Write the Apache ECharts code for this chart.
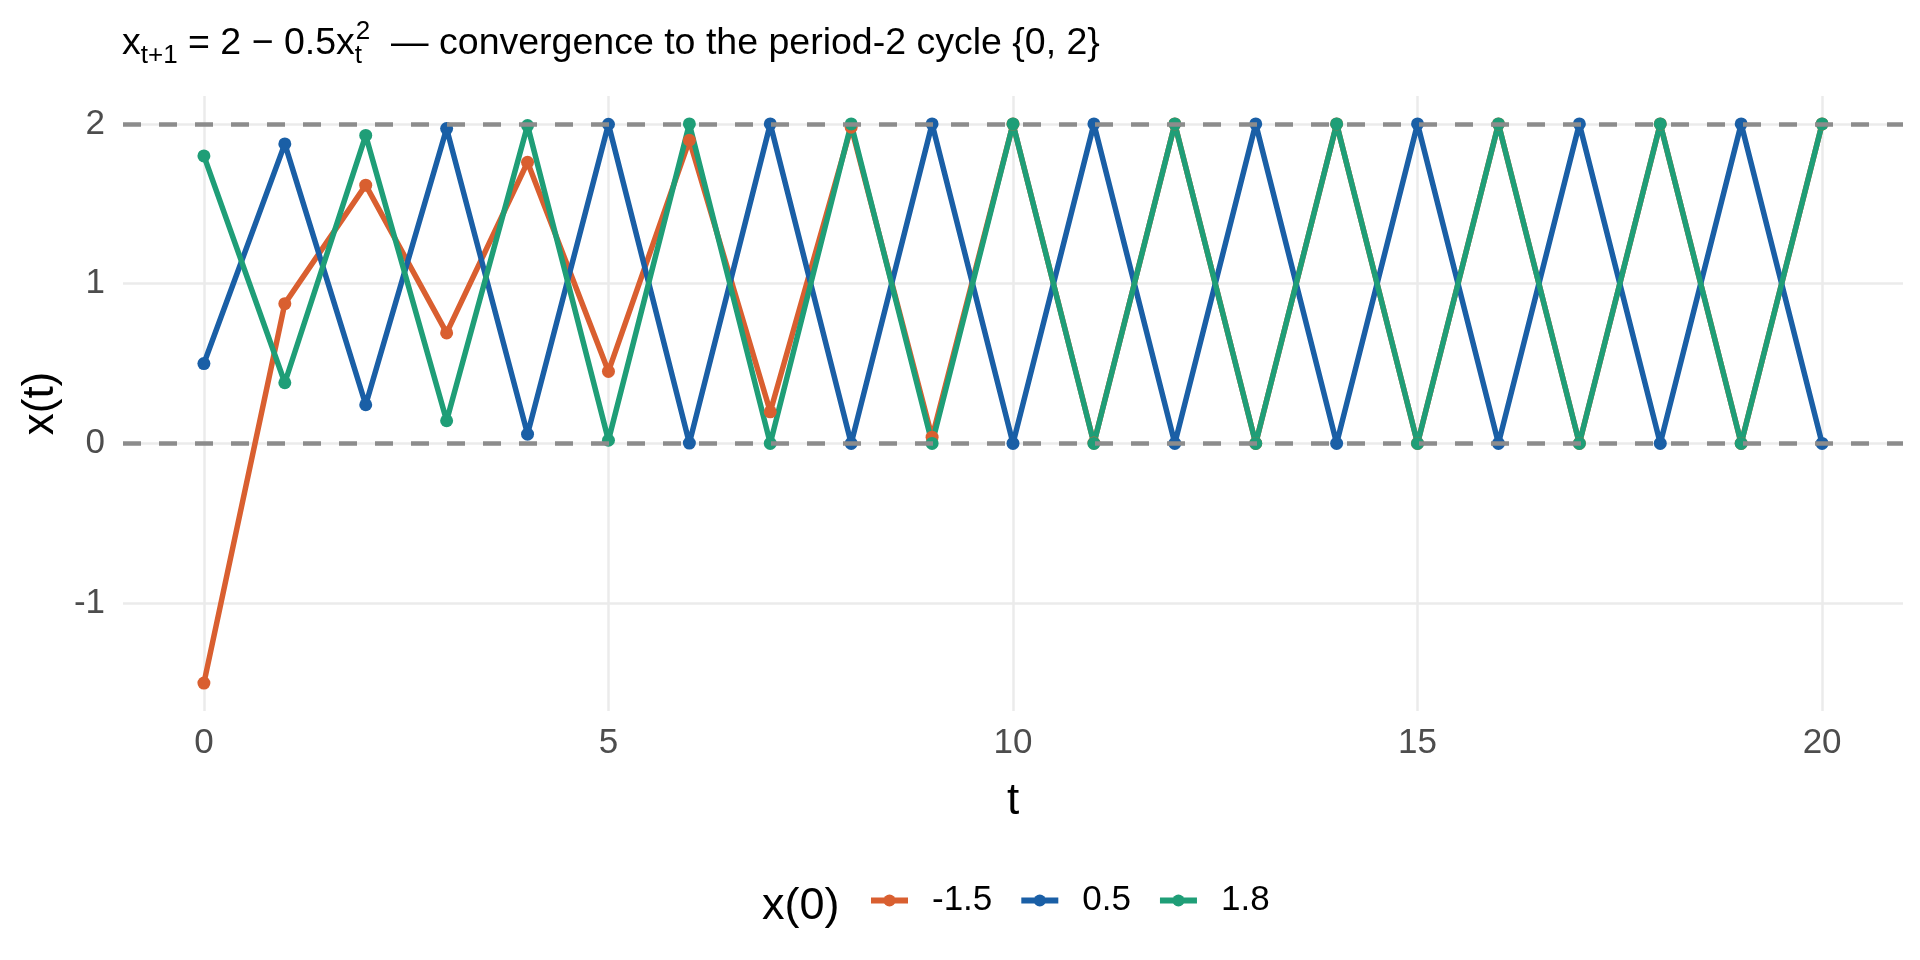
<!DOCTYPE html>
<html>
<head>
    <meta charset="utf-8">
    <title>period-2 cycle</title>
    <script type="text/javascript" src="https://cdn.jsdelivr.net/npm/echarts@6/dist/echarts.min.js"></script>
    <style>
        html, body { margin: 0; padding: 0; background: #fff; }
    </style>
</head>
<body>
<div id="main" style="width:1920px;height:960px;"></div>

<script type="text/javascript">
    // iterations t
    var steps = [0, 1, 2, 3, 4, 5, 6, 7, 8, 9, 10, 11, 12, 13, 14, 15, 16, 17, 18, 19, 20];
    // x(0) = -1.5, 0.5, 1.8
    var seriesNames = ['-1.5', '0.5', '1.8'];
    var xNeg15 = [-1.5, 0.875, 1.617, 0.692, 1.760, 0.451, 1.898, 0.198, 1.980, 0.039, 1.999, 0.002, 2, 0, 2, 0, 2, 0, 2, 0, 2];
    var x05 = [0.5, 1.875, 0.242, 1.971, 0.058, 1.998, 0.002, 2, 0, 2, 0, 2, 0, 2, 0, 2, 0, 2, 0, 2, 0];
    var x18 = [1.8, 0.38, 1.928, 0.142, 1.990, 0.020, 2, 0, 2, 0, 2, 0, 2, 0, 2, 0, 2, 0, 2, 0, 2];
    var cycleLevels = [0, 2];
    var xTicks = [0, 5, 10, 15, 20];
    var yTicks = [-1, 0, 1, 2];

    var colors = ['#d95f30', '#1a5fa6', '#1f9e77'];
    var font = '"Liberation Sans", Arial, Helvetica, sans-serif';

    var chart = echarts.init(document.getElementById('main'));

    function pairs(vals) {
        return steps.map(function (t, i) { return [t, vals[i]]; });
    }

    function lineSeries(name, vals, color) {
        return {
            name: name,
            type: 'line',
            data: pairs(vals),
            symbol: 'circle',
            symbolSize: 13,
            showSymbol: true,
            itemStyle: { color: color },
            lineStyle: { color: color, width: 5.5 },
            emphasis: { disabled: true },
            z: 2
        };
    }

    var option = {
        backgroundColor: '#fff',
        animation: false,
        textStyle: { fontFamily: font },
        title: [{
            left: 122,
            top: 19,
            padding: 0,
            text: '{m|x}{sb|t+1}{m| = 2 − 0.5x}{st|t}{sp|2}{m|  — convergence to the period-2 cycle }{0, 2}',
            textStyle: {
                fontFamily: font,
                fontSize: 37.5,
                fontWeight: 'normal',
                color: '#000',
                lineHeight: 50,
                rich: {
                    m: { fontSize: 37.5, lineHeight: 50, color: '#000', fontFamily: font },
                    sb: { fontSize: 26, lineHeight: 30, verticalAlign: 'bottom', color: '#000', fontFamily: font },
                    st: { fontSize: 26, lineHeight: 30, verticalAlign: 'bottom', width: 1, align: 'left', color: '#000', fontFamily: font },
                    sp: { fontSize: 26, lineHeight: 36, verticalAlign: 'top', color: '#000', fontFamily: font }
                }
            }
        }, {
            left: 762,
            top: 884,
            padding: 0,
            text: 'x(0)',
            textStyle: { fontFamily: font, fontSize: 45, fontWeight: 'normal', color: '#000' }
        }],
        legend: {
            data: seriesNames,
            left: 868,
            top: 883,
            padding: 0,
            itemWidth: 37,
            itemHeight: 15,
            itemGap: 26,
            lineStyle: { width: 6 },
            textStyle: { fontFamily: font, fontSize: 35, color: '#000', padding: [0, 0, 0, 19] }
        },
        grid: {
            left: 123,
            right: 17,
            top: 96,
            bottom: 249,
            containLabel: false
        },
        xAxis: {
            type: 'value',
            min: -1,
            max: 21,
            name: 't',
            nameLocation: 'middle',
            nameGap: 69,
            nameTextStyle: { fontFamily: font, fontSize: 44, color: '#000' },
            axisLine: { show: false },
            axisTick: { show: false, customValues: xTicks },
            axisLabel: { customValues: xTicks, margin: 15, fontSize: 35, color: '#4d4d4d', fontFamily: font },
            splitLine: { show: true, lineStyle: { color: '#ebebeb', width: 2.5 } }
        },
        yAxis: {
            type: 'value',
            min: -1.675,
            max: 2.175,
            name: 'x(t)',
            nameLocation: 'middle',
            nameRotate: 90,
            nameGap: 58,
            nameTextStyle: { fontFamily: font, fontSize: 44, color: '#000' },
            axisLine: { show: false },
            axisTick: { show: false, customValues: yTicks },
            axisLabel: { customValues: yTicks, margin: 18, fontSize: 35, color: '#4d4d4d', fontFamily: font },
            splitLine: { show: true, lineStyle: { color: '#ebebeb', width: 2.5 } }
        },
        series: [
            lineSeries(seriesNames[0], xNeg15, colors[0]),
            lineSeries(seriesNames[1], x05, colors[1]),
            lineSeries(seriesNames[2], x18, colors[2]),
            {
                name: 'cycle',
                type: 'line',
                data: [],
                z: 5,
                markLine: {
                    silent: true,
                    symbol: ['none', 'none'],
                    label: { show: false },
                    lineStyle: { color: '#8c8c8c', width: 4.5, type: [18, 18], opacity: 1 },
                    data: cycleLevels.map(function (v) { return { yAxis: v }; })
                }
            }
        ]
    };

    chart.setOption(option);
</script>
</body>
</html>
